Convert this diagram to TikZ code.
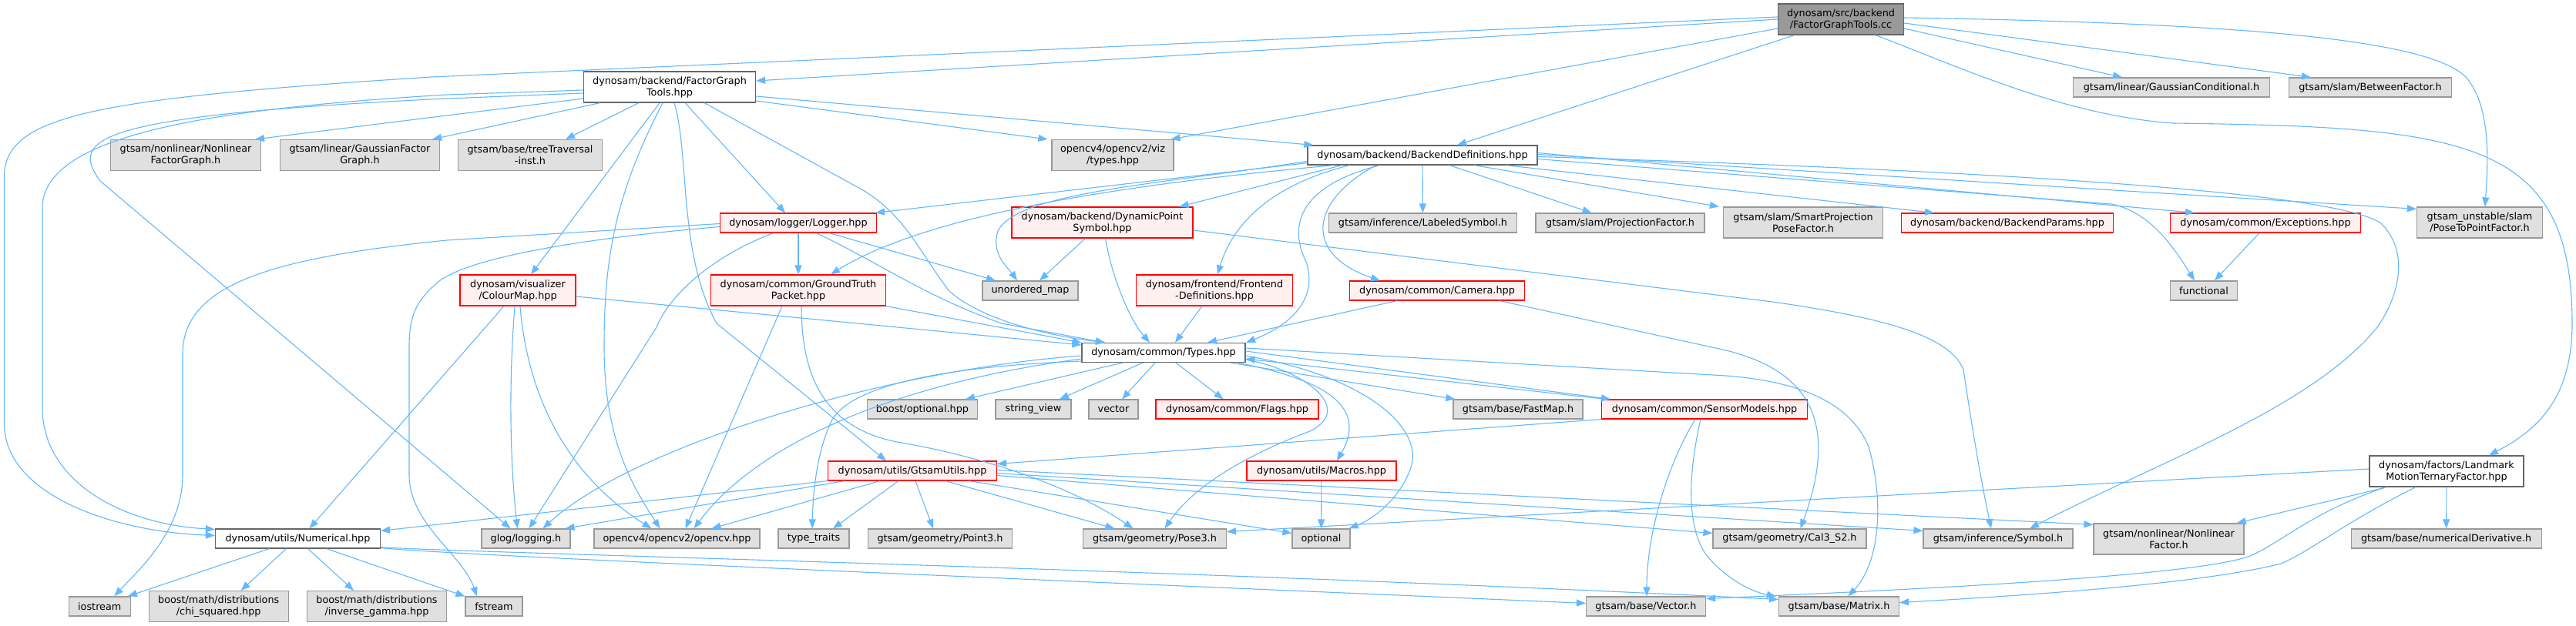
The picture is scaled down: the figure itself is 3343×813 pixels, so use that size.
\documentclass[tikz,border=0pt]{standalone}
\usepackage{fontspec}
\setmainfont{DejaVu Sans}
\usepackage{tikz}
\usetikzlibrary{arrows.meta}

\definecolor{edgeblue}{HTML}{63B8FF}
\definecolor{sysfill}{HTML}{E0E0E0}
\definecolor{sysline}{HTML}{999999}
\definecolor{hdrline}{HTML}{666666}
\definecolor{truncfill}{HTML}{FFF0F0}
\definecolor{truncline}{HTML}{FF0000}
\definecolor{rootfill}{HTML}{999999}

\begin{document}
\begin{tikzpicture}[auto, x=1pt, y=-1pt, >={Triangle[length=12pt,width=9pt]}]

        \tikzstyle{file} = [rectangle, inner sep=0pt, align=center, line width=1.2pt, minimum height=25pt, font={\fontsize{12.8}{15}\selectfont}]
        \tikzstyle{hdr} = [file, draw=hdrline, fill=white]
        \tikzstyle{sys} = [file, draw=sysline, fill=sysfill]
        \tikzstyle{trunc} = [file, draw=truncline, fill=truncfill]
        \tikzstyle{root} = [file, draw=hdrline, fill=rootfill]
        \tikzstyle{twoline} = [minimum height=40pt]
        \tikzstyle{incl} = [->, draw=edgeblue, line width=1.1pt]

        \fill [white] (0,0) rectangle (3343,813);
        \useasboundingbox (0,0) rectangle (3343,813);

        \node [root, twoline, minimum width=163pt] (cc) at (2389,25) {dynosam/src/backend\\/FactorGraphTools.cc};

        \node [hdr, twoline, minimum width=223pt] (fgt) at (869,113) {dynosam/backend/FactorGraph\\Tools.hpp};
        \node [sys, minimum width=255pt] (gcond) at (2818,113.5) {gtsam/linear/GaussianConditional.h};
        \node [sys, minimum width=211pt] (between) at (3076,113.5) {gtsam/slam/BetweenFactor.h};

        \node [sys, twoline, minimum width=195pt] (nlfg) at (241,201.5) {gtsam/nonlinear/Nonlinear\\FactorGraph.h};
        \node [sys, twoline, minimum width=207pt] (gfg) at (467,201.5) {gtsam/linear/GaussianFactor\\Graph.h};
        \node [sys, twoline, minimum width=187pt] (tree) at (688,201.5) {gtsam/base/treeTraversal\\-inst.h};
        \node [sys, twoline, minimum width=158pt] (viz) at (1444,201.5) {opencv4/opencv2/viz\\/types.hpp};
        \node [hdr, minimum width=298pt] (bd) at (1846,201.5) {dynosam/backend/BackendDefinitions.hpp};

        \node [trunc, minimum width=203pt] (logger) at (1036,289.5) {dynosam/logger/Logger.hpp};
        \node [trunc, twoline, minimum width=235pt] (dps) at (1430.5,289) {dynosam/backend/DynamicPoint\\Symbol.hpp};
        \node [sys, minimum width=244pt] (lsym) at (1846.5,289.5) {gtsam/inference/LabeledSymbol.h};
        \node [sys, minimum width=219pt] (proj) at (2102.5,289.5) {gtsam/slam/ProjectionFactor.h};
        \node [sys, twoline, minimum width=207pt] (smart) at (2340,289) {gtsam/slam/SmartProjection\\PoseFactor.h};
        \node [trunc, minimum width=275pt] (params) at (2605,289.5) {dynosam/backend/BackendParams.hpp};
        \node [trunc, minimum width=247pt] (except) at (2940,289.5) {dynosam/common/Exceptions.hpp};
        \node [sys, twoline, minimum width=163pt] (p2p) at (3218,289) {gtsam\_unstable/slam\\/PoseToPointFactor.h};

        \node [trunc, twoline, minimum width=150pt] (cmap) at (672,377) {dynosam/visualizer\\/ColourMap.hpp};
        \node [trunc, twoline, minimum width=227pt] (gtp) at (1036,377) {dynosam/common/GroundTruth\\Packet.hpp};
        \node [sys, minimum width=124pt] (umap) at (1337,377.5) {unordered\_map};
        \node [trunc, twoline, minimum width=203pt] (fdef) at (1576,377) {dynosam/frontend/Frontend\\-Definitions.hpp};
        \node [trunc, minimum width=227pt] (camera) at (1865,377.5) {dynosam/common/Camera.hpp};
        \node [sys, minimum width=87pt] (functional) at (2860,377.5) {functional};

        \node [hdr, minimum width=212pt] (types) at (1510,458) {dynosam/common/Types.hpp};

        \node [sys, minimum width=143pt] (boptional) at (1197,531.5) {boost/optional.hpp};
        \node [sys, minimum width=98pt] (strview) at (1341,531.5) {string\_view};
        \node [sys, minimum width=64pt] (vector) at (1445,531.5) {vector};
        \node [trunc, minimum width=211pt] (flags) at (1605.5,531.5) {dynosam/common/Flags.hpp};
        \node [sys, minimum width=168pt] (fastmap) at (1970,531.5) {gtsam/base/FastMap.h};
        \node [trunc, minimum width=267pt] (sensor) at (2212,531.5) {dynosam/common/SensorModels.hpp};

        \node [trunc, minimum width=219pt] (gtsamutils) at (1184,611.5) {dynosam/utils/GtsamUtils.hpp};
        \node [trunc, minimum width=194pt] (macros) at (1715,611.5) {dynosam/utils/Macros.hpp};
        \node [hdr, twoline, minimum width=200pt] (lmtf) at (3175,612) {dynosam/factors/Landmark\\MotionTernaryFactor.hpp};

        \node [hdr, minimum width=214pt] (numerical) at (386.5,699.5) {dynosam/utils/Numerical.hpp};
        \node [sys, minimum width=115pt] (glog) at (682.5,699.5) {glog/logging.h};
        \node [sys, minimum width=215pt] (opencv) at (878.5,699.5) {opencv4/opencv2/opencv.hpp};
        \node [sys, minimum width=92pt] (typetraits) at (1056,699.5) {type\_traits};
        \node [sys, minimum width=187pt] (point3) at (1220,699.5) {gtsam/geometry/Point3.h};
        \node [sys, minimum width=186pt] (pose3) at (1498.5,699.5) {gtsam/geometry/Pose3.h};
        \node [sys, minimum width=75pt] (optional) at (1714.5,699.5) {optional};
        \node [sys, minimum width=199pt] (cal3) at (2322.5,699.5) {gtsam/geometry/Cal3\_S2.h};
        \node [sys, minimum width=194pt] (symbol) at (2593,699.5) {gtsam/inference/Symbol.h};
        \node [sys, twoline, minimum width=195pt] (nlfactor) at (2814.5,700) {gtsam/nonlinear/Nonlinear\\Factor.h};
        \node [sys, minimum width=247pt] (numderiv) at (3174.6,699.5) {gtsam/base/numericalDerivative.h};

        \node [sys, minimum width=80pt] (iostream) at (129.3,787.5) {iostream};
        \node [sys, twoline, minimum width=181pt] (chisq) at (283.7,787.5) {boost/math/distributions\\/chi\_squared.hpp};
        \node [sys, twoline, minimum width=181pt] (invgamma) at (489,787.5) {boost/math/distributions\\/inverse\_gamma.hpp};
        \node [sys, minimum width=74pt] (fstream) at (641,787.5) {fstream};
        \node [sys, minimum width=155pt] (vectorh) at (2136,787.5) {gtsam/base/Vector.h};
        \node [sys, minimum width=156pt] (matrixh) at (2386.5,787.5) {gtsam/base/Matrix.h};

        % FactorGraphTools.cc
        \draw [incl] (cc.west) -- ([yshift=8pt]fgt.east);
        \draw [incl] ([yshift=3pt]cc.west) -- (560,100) .. controls (120,128) and (5.5,150) .. (5.5,230) -- (5.5,550) .. controls (5.5,640) and (140,690) .. ([yshift=4pt]numerical.west);
        \draw [incl] ([xshift=-60pt]cc.south) -- ([xshift=45pt]bd.north);
        \draw [incl] ([yshift=-12pt]cc.west) -- ([xshift=-4pt]viz.north east);
        \draw [incl] ([yshift=-12pt]cc.east) -- ([xshift=-64pt]gcond.north);
        \draw [incl] ([yshift=-5pt]cc.east) -- ([xshift=-77pt]between.north);
        \draw [incl] ([yshift=2pt]cc.east) .. controls (2900,30) and (3150,50) .. (3200,100) .. controls (3235,140) and (3228,220) .. ([xshift=7pt]p2p.north);
        \draw [incl] ([xshift=45pt]cc.south) .. controls (2550,90) and (2680,150) .. (2820,160) .. controls (3200,165) and (3338,180) .. (3338,420) .. controls (3338,520) and (3290,560) .. ([xshift=55pt]lmtf.north);

        % FactorGraphTools.hpp
        \draw [incl] ([yshift=-12pt]fgt.east) -- ([xshift=8pt]bd.north west);
        \draw [incl] ([yshift=-18pt]fgt.east) -- ([xshift=-5pt]viz.north west);
        \draw [incl] ([yshift=-15pt]fgt.west) -- ([xshift=-8pt]nlfg.north east);
        \draw [incl] ([xshift=22pt]fgt.south west) -- ([xshift=-10pt]gfg.north east);
        \draw [incl] ([xshift=-40pt]fgt.south) -- ([xshift=46pt]tree.north);
        \draw [incl] ([yshift=-4pt]fgt.west) -- (580,123) .. controls (300,140) and (55,170) .. (55,270) -- (55,530) .. controls (55,620) and (150,680) .. ([yshift=12pt]numerical.west);
        \draw [incl] ([yshift=-8pt]fgt.west) -- (580,128) .. controls (120,150) and (90,180) .. (130,235) -- ([xshift=-20pt]glog.north);
        \draw [incl] ([xshift=-13pt]fgt.south) -- ([xshift=17pt]cmap.north);
        \draw [incl] ([xshift=-9pt]fgt.south) .. controls (800,250) and (784,330) .. (784,450) .. controls (784,570) and (820,630) .. ([xshift=-22pt]opencv.north);
        \draw [incl] ([xshift=6pt]fgt.south) .. controls (895,200) and (880,330) .. (930,420) -- ([xshift=-34pt]gtsamutils.north);
        \draw [incl] ([xshift=20pt]fgt.south) -- ([xshift=-17pt]logger.north);
        \draw [incl] ([xshift=45pt]fgt.south) -- (1120,247) .. controls (1175,280) and (1195,330) .. (1231,377) .. controls (1260,405) and (1330,432) .. ([xshift=-76pt]types.north);

        % Logger.hpp
        \draw [incl] (logger) -- (gtp);
        \draw [incl] ([xshift=-32pt]logger.south) .. controls (930,330) and (870,380) .. (852,425) -- ([xshift=4pt]glog.north);
        \draw [incl] ([yshift=-1pt]logger.west) -- (580,312) .. controls (350,335) and (237,370) .. (237,460) -- (237,617) .. controls (237,690) and (180,740) .. ([xshift=19pt]iostream.north);
        \draw [incl] ([yshift=-5pt]logger.west) .. controls (750,310) and (610,335) .. (570,365) .. controls (540,390) and (531,410) .. (531,450) -- (531,617) .. controls (531,680) and (600,720) .. ([xshift=-22pt]fstream.north);
        \draw [incl] ([xshift=40pt]logger.south) -- ([xshift=-45pt]umap.north);
        \draw [incl] ([xshift=23pt]logger.south) .. controls (1130,335) and (1200,385) .. (1300,420) -- ([xshift=-76pt]types.north);

        % BackendDefinitions.hpp
        \draw [incl] ([yshift=3pt]bd.south west) -- ([xshift=-2pt]logger.north east);
        \draw [incl] ([xshift=35pt]bd.south west) .. controls (1450,240) and (1200,280) .. ([xshift=42pt]gtp.north);
        \draw [incl] ([yshift=-8pt]bd.west) .. controls (1500,240) and (1320,250) .. (1295,300) .. controls (1285,330) and (1310,350) .. ([xshift=-17pt]umap.north);
        \draw [incl] ([xshift=45pt]bd.south west) -- ([xshift=100pt]dps.north);
        \draw [incl] ([xshift=55pt]bd.south west) .. controls (1650,240) and (1600,290) .. ([xshift=4pt]fdef.north);
        \draw [incl] ([xshift=-60pt]bd.south) .. controls (1700,260) and (1690,330) .. ([xshift=-74pt]camera.north);
        \draw [incl] ([xshift=-55pt]bd.south) .. controls (1690,240) and (1670,290) .. (1695,340) .. controls (1710,385) and (1680,420) .. ([xshift=107pt]types.north);
        \draw [incl] (bd) -- (lsym);
        \draw [incl] ([xshift=35pt]bd.south) -- ([xshift=-37pt]proj.north);
        \draw [incl] ([xshift=67pt]bd.south) -- ([xshift=-5pt]smart.north west);
        \draw [incl] ([xshift=108pt]bd.south) -- ([xshift=-95pt]params.north);
        \draw [incl] ([yshift=3pt]bd.east) -- ([xshift=-92pt]except.north);
        \draw [incl] ([yshift=-5pt]bd.east) -- (2740,265) .. controls (2790,275) and (2820,320) .. ([xshift=-12pt]functional.north);
        \draw [incl] ([yshift=1pt]bd.east) -- ([yshift=-3pt]p2p.north west);
        \draw [incl] ([yshift=-2pt]bd.east) .. controls (2700,225) and (3040,255) .. (3090,290) .. controls (3130,330) and (3110,390) .. (3085,425) .. controls (3000,530) and (2800,600) .. ([xshift=41pt]symbol.north);

        % DynamicPointSymbol.hpp
        \draw [incl] ([xshift=-22pt]dps.south) -- ([xshift=12pt]umap.north);
        \draw [incl] ([xshift=4pt]dps.south) .. controls (1445,370) and (1470,420) .. ([xshift=-18pt]types.north);
        \draw [incl] ([yshift=-10pt]dps.east) -- (2300,392) .. controls (2440,412) and (2530,435) .. (2548,480) .. controls (2560,560) and (2570,620) .. ([xshift=-9pt]symbol.north);

        % Frontend, Camera, GroundTruth, ColourMap
        \draw [incl] ([xshift=-16pt]fdef.south) -- ([xshift=15pt]types.north);
        \draw [incl] ([xshift=-52pt]camera.south) -- ([xshift=57pt]types.north);
        \draw [incl] ([xshift=81pt]camera.south) -- (2240,455) .. controls (2340,480) and (2390,540) .. ([xshift=14pt]cal3.north);
        \draw [incl] (gtp.south east) -- (types.north west);
        \draw [incl] ([xshift=-21pt]gtp.south) -- ([xshift=11pt]opencv.north);
        \draw [incl] ([xshift=4pt]gtp.south) .. controls (1040,490) and (1070,555) .. (1164,574) .. controls (1260,590) and (1380,625) .. ([xshift=-28pt]pose3.north);
        \draw [incl] ([xshift=-18pt]cmap.south) -- ([xshift=15pt]numerical.north);
        \draw [incl] ([xshift=-4pt]cmap.south) .. controls (660,500) and (662,600) .. ([xshift=-11pt]glog.north);
        \draw [incl] ([xshift=3pt]cmap.south) .. controls (685,520) and (740,620) .. ([xshift=-33pt]opencv.north);
        \draw [incl] ([yshift=-8pt]cmap.east) -- ([yshift=-3pt]types.north west);
        \draw [incl] ([xshift=-8pt]except.south) -- ([xshift=14pt]functional.north);

        % Types.hpp
        \draw [incl] ([xshift=-53pt]types.south) -- ([xshift=56pt]boptional.north);
        \draw [incl] ([xshift=-27pt]types.south) -- ([xshift=34pt]strview.north);
        \draw [incl] ([xshift=-11pt]types.south) -- ([xshift=11pt]vector.north);
        \draw [incl] ([xshift=16pt]types.south) -- ([xshift=-18pt]flags.north);
        \draw [incl] ([xshift=-20pt]types.south east) -- ([xshift=3pt]fastmap.north west);
        \draw [incl] ([yshift=2pt]types.east) -- ([xshift=12pt]sensor.north west);
        \draw [incl] ([xshift=6pt]sensor.north west) -- ([yshift=-8pt]types.east);
        \draw [incl] ([xshift=-10pt]types.south east) .. controls (1700,490) and (1780,520) .. ([xshift=20pt]macros.north);
        \draw [incl] ([yshift=-4pt]types.east) .. controls (1780,490) and (1850,560) .. (1830,610) .. controls (1815,650) and (1780,675) .. ([xshift=-2pt]optional.north east);
        \draw [incl] ([yshift=-9pt]types.east) .. controls (1690,480) and (1760,530) .. (1700,560) .. controls (1620,590) and (1550,630) .. ([xshift=13pt]pose3.north);
        \draw [incl] ([yshift=-4pt]types.west) .. controls (1150,480) and (820,580) .. ([xshift=22pt]glog.north);
        \draw [incl] ([yshift=-8pt]types.west) .. controls (1150,500) and (980,580) .. ([xshift=22pt]opencv.north);
        \draw [incl] ([yshift=-11pt]types.west) .. controls (1250,475) and (1110,495) .. (1080,545) .. controls (1060,585) and (1055,640) .. ([xshift=-2pt]typetraits.north);
        \draw [incl] ([yshift=6pt]types.east) -- (2240,488) .. controls (2330,495) and (2400,520) .. (2425,580) .. controls (2445,650) and (2440,730) .. ([xshift=12pt]matrixh.north);
        \draw [incl] (macros) -- (optional);

        % GtsamUtils.hpp
        \draw [incl] (gtsamutils.south west) -- ([yshift=-3pt]numerical.north east);
        \draw [incl] ([xshift=22pt]gtsamutils.south west) -- ([xshift=51pt]glog.north);
        \draw [incl] ([xshift=-42pt]gtsamutils.south) -- ([xshift=45pt]opencv.north);
        \draw [incl] ([xshift=-18pt]gtsamutils.south) -- ([xshift=25pt]typetraits.north);
        \draw [incl] ([xshift=4pt]gtsamutils.south) -- ([xshift=-9pt]point3.north);
        \draw [incl] ([xshift=43pt]gtsamutils.south) -- ([xshift=-52pt]pose3.north);
        \draw [incl] ([xshift=-36pt]gtsamutils.south east) -- ([yshift=7pt]optional.west);
        \draw [incl] ([yshift=-6pt]gtsamutils.east) -- ([yshift=7pt]cal3.west);
        \draw [incl] ([yshift=-3pt]gtsamutils.east) -- ([yshift=-3pt]symbol.north west);
        \draw [incl] ([yshift=1pt]gtsamutils.east) -- ([yshift=-2pt]nlfactor.north west);

        % SensorModels.hpp
        \draw [incl] (sensor.south west) -- ([yshift=9pt]gtsamutils.east);
        \draw [incl] ([xshift=-12pt]sensor.south) .. controls (2160,610) and (2137,700) .. ([xshift=1pt]vectorh.north);
        \draw [incl] ([xshift=-5pt]sensor.south) .. controls (2185,640) and (2195,700) .. (2218,725) .. controls (2240,750) and (2270,768) .. ([xshift=-3pt]matrixh.north west);

        % LandmarkMotionTernaryFactor.hpp
        \draw [incl] ([yshift=3pt]lmtf.west) -- ([yshift=9pt]pose3.east);
        \draw [incl] ([xshift=-77pt]lmtf.south) -- ([xshift=-10pt]nlfactor.north east);
        \draw [incl] (lmtf) -- (numderiv);
        \draw [incl] ([xshift=-79pt]lmtf.south) .. controls (3000,665) and (2960,705) .. (2920,722) .. controls (2850,748) and (2500,765) .. ([yshift=10pt]vectorh.east);
        \draw [incl] ([xshift=-40pt]lmtf.south) .. controls (3040,680) and (3000,715) .. (2960,732) .. controls (2850,760) and (2600,775) .. ([yshift=5pt]matrixh.east);

        % Numerical.hpp
        \draw [incl] ([xshift=-37pt]numerical.south) -- ([xshift=-4pt]iostream.north east);
        \draw [incl] ([xshift=-15pt]numerical.south) -- ([xshift=29pt]chisq.north);
        \draw [incl] ([xshift=13pt]numerical.south) -- ([xshift=-30pt]invgamma.north);
        \draw [incl] ([xshift=37pt]numerical.south) -- (fstream.north west);
        \draw [incl] ([yshift=1pt]numerical.south east) .. controls (600,722) and (1400,755) .. ([yshift=4pt]vectorh.west);
        \draw [incl] ([yshift=2pt]numerical.south east) .. controls (600,718) and (1500,738) .. ([yshift=9pt]matrixh.west);

\end{tikzpicture}
\end{document}
